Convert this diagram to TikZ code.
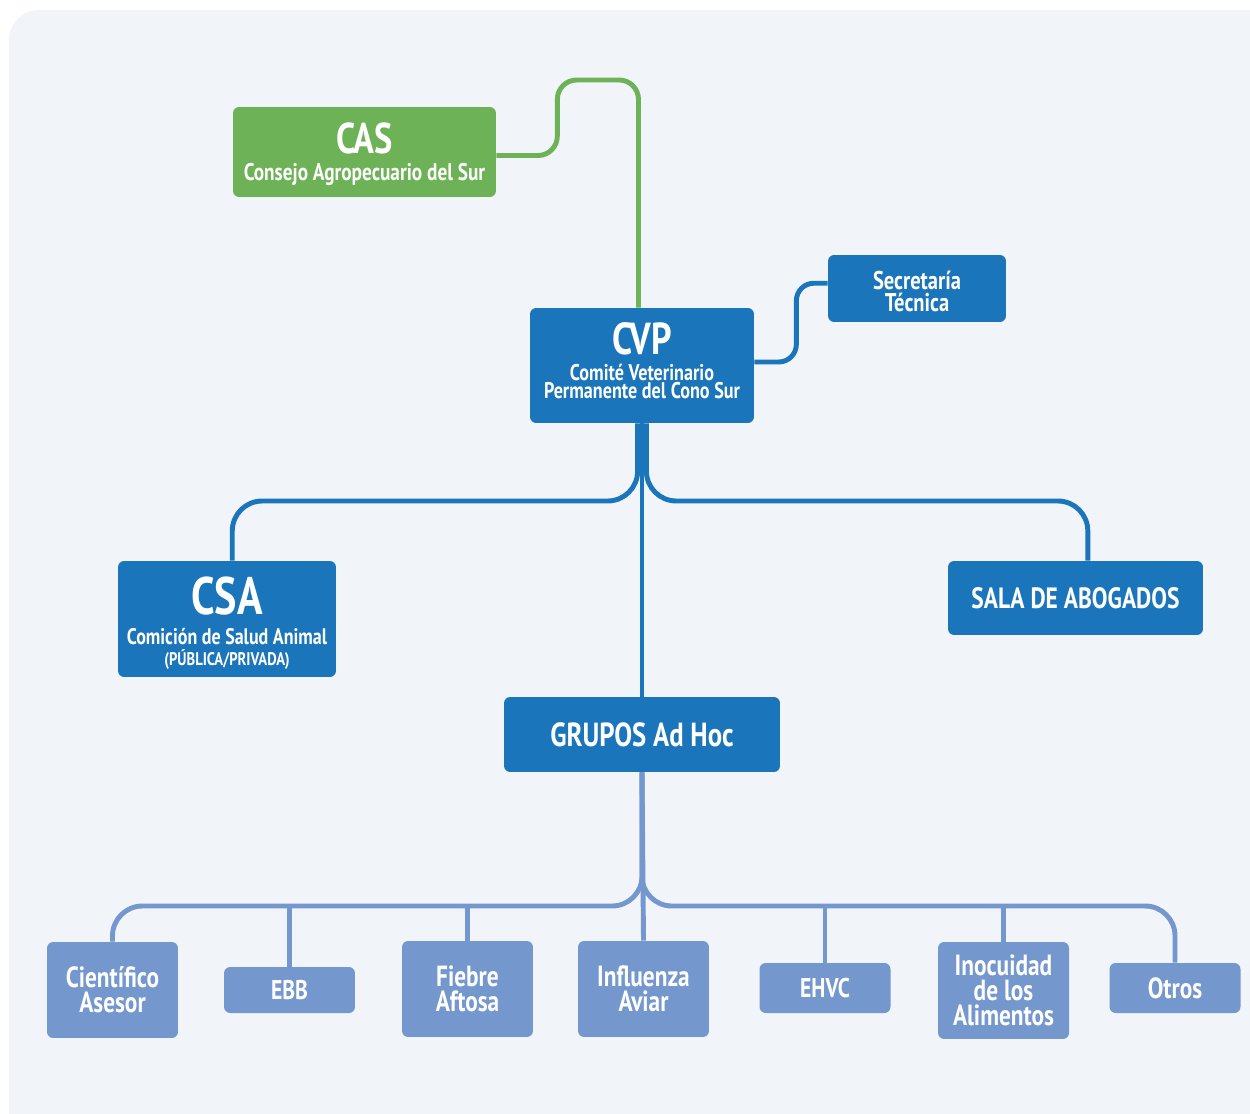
\documentclass[tikz,border=0pt]{standalone}
\usepackage{fontspec}
\setmainfont{PT Sans}[FakeStretch=0.8]
\usetikzlibrary{positioning}
\definecolor{paper}{HTML}{F1F4F9}
\definecolor{casgreen}{HTML}{6DB256}
\definecolor{cvpblue}{HTML}{1B75BB}
\definecolor{grpblue}{HTML}{7497CD}

\begin{document}
\begin{tikzpicture}[x=0.02cm,y=-0.02cm,
  box/.style={rounded corners=3.5pt,inner sep=0pt,text=white,align=center,font=\bfseries},
  link/.style={line width=2.8pt},
  small/.style={box,fill=grpblue,minimum width=2.62cm,font=\bfseries\fontsize{16.6}{14.2}\selectfont}]
\useasboundingbox (0,0) rectangle (1250,1114);
\fill[white] (0,0) rectangle (1250,1114);
\fill[paper,rounded corners=17pt] (9,10) rectangle (1290,1150);
% top level
\node[box,fill=casgreen,minimum width=5.26cm,minimum height=1.8cm] (cas) at (364.5,152)
  {\rule{0pt}{20pt}\fontsize{24.5}{24}\selectfont CAS\\[3pt]\fontsize{13.7}{13}\selectfont Consejo Agropecuario del Sur};
\node[box,fill=cvpblue,minimum width=4.48cm,minimum height=2.3cm] (cvp) at (642,365.5)
  {\fontsize{25.5}{24}\selectfont CVP\\[3pt]\fontsize{12.9}{10.5}\selectfont Comité Veterinario\\[-2pt]\fontsize{12.9}{10.5}\selectfont Permanente del Cono Sur\rule[-6pt]{0pt}{0pt}};
\node[box,fill=cvpblue,minimum width=3.56cm,minimum height=1.34cm,font=\bfseries\fontsize{14.6}{12.5}\selectfont] (sec) at (917,288.5)
  {\rule{0pt}{14pt}Secretaría\\Técnica};
% second level
\node[box,fill=cvpblue,minimum width=4.36cm,minimum height=2.32cm] (csa) at (227,619)
  {\rule{0pt}{26pt}\fontsize{30}{30}\selectfont CSA\\[5pt]\fontsize{12.8}{11}\selectfont Comición de Salud Animal\\\fontsize{10.4}{10.5}\selectfont (PÚBLICA/PRIVADA)};
\node[box,fill=cvpblue,minimum width=5.1cm,minimum height=1.48cm,font=\bfseries\fontsize{16.7}{18}\selectfont] (sala) at (1075.5,598)
  {SALA DE ABOGADOS};
\node[box,fill=cvpblue,minimum width=5.52cm,minimum height=1.5cm,font=\bfseries\fontsize{19}{20}\selectfont] (grp) at (642,734.5)
  {GRUPOS Ad Hoc};
% ad hoc groups
\node[small,minimum height=1.92cm] (cie) at (112.5,990) {Científico\\Asesor};
\node[small,minimum height=0.92cm,font=\bfseries\fontsize{15.4}{14}\selectfont] (ebb) at (289.5,990) {EBB};
\node[small,minimum height=1.92cm] (fie) at (467.5,989) {Fiebre\\Aftosa};
\node[small,minimum height=1.92cm] (inf) at (643.5,989) {Influenza\\Aviar};
\node[small,minimum height=1cm,font=\bfseries\fontsize{15.4}{14}\selectfont] (ehv) at (825,988) {EHVC};
\node[small,minimum height=1.94cm] (ino) at (1003.5,990.5) {Inocuidad\\de los\\Alimentos};
\node[small,minimum height=1cm] (otr) at (1175,988) {Otros};
% connectors
\coordinate (top) at (0,80);
\coordinate (mid) at (0,501);
\coordinate (bus) at (0,906);
\draw[link,casgreen,rounded corners=11pt] ([yshift=-2pt]cas.east) -- ++(61,0) |- ([xshift=-2pt]cvp.north |- top) -- ([xshift=-2pt]cvp.north);
\draw[link,cvpblue,rounded corners=10pt] ([yshift=2pt]cvp.east) -- ++(42,0) |- ([yshift=3pt]sec.west);
\draw[link,cvpblue,rounded corners=17pt] ([xshift=-2.5pt]cvp.south) |- ([xshift=3pt]csa.north |- mid) -- ([xshift=3pt]csa.north);
\draw[link,cvpblue,rounded corners=17pt] ([xshift=2.5pt]cvp.south) |- ([xshift=7pt]sala.north |- mid) -- ([xshift=7pt]sala.north);
\draw[link,cvpblue] (cvp.south) -- (grp.north);
\draw[link,grpblue,rounded corners=17pt] (grp.south) |- (cie.north |- bus) -- (cie.north);
\draw[link,grpblue,rounded corners=17pt] (grp.south) |- (otr.north |- bus) -- (otr.north);
\draw[link,grpblue] (grp.south) -- (inf.north);
\draw[link,grpblue] (ebb.north |- bus) -- (ebb.north);
\draw[link,grpblue] (fie.north |- bus) -- (fie.north);
\draw[link,grpblue] (ehv.north |- bus) -- (ehv.north);
\draw[link,grpblue] (ino.north |- bus) -- (ino.north);
\end{tikzpicture}
\end{document}
